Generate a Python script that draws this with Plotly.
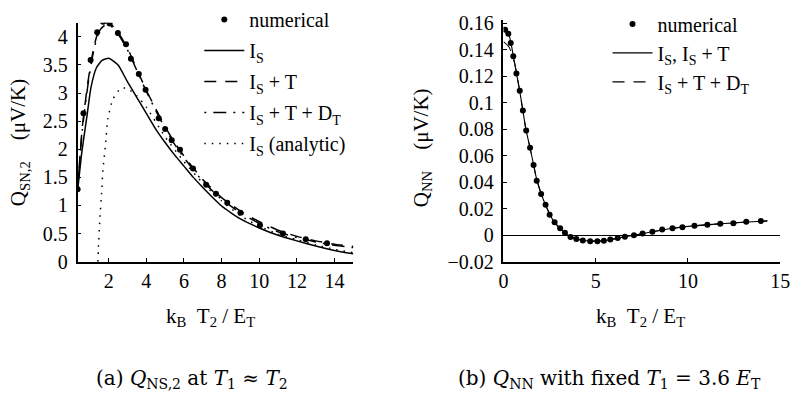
import plotly.graph_objects as go

# ---------------- data: panel (a) ----------------
num_a_x = [0.35, 0.66, 1.04, 1.39, 1.70, 2.05, 2.49, 2.92, 3.18, 3.6, 3.96, 4.66, 5.0, 5.35,
           5.79, 6.48, 7.18, 7.7, 8.3, 9.0, 10.04, 11.26, 12.47, 13.6]
num_a_y = [1.29, 2.64, 3.59, 4.08, 4.27, 4.24, 4.07, 3.87, 3.61, 3.34, 3.06, 2.55, 2.36, 2.16,
           1.99, 1.66, 1.37, 1.21, 1.05, 0.87, 0.65, 0.50, 0.40, 0.33]

is_x = [0.35, 0.57, 0.85, 1.06, 1.35, 1.65, 2.0, 2.5, 3.0, 3.5, 4.0, 4.5, 5.0, 5.5, 6.0, 6.5,
        7.0, 7.5, 8.0, 8.5, 9.0, 10.0, 11.0, 12.0, 13.0, 14.0, 15.0]
is_y = [1.26, 1.94, 2.6, 3.1, 3.45, 3.58, 3.62, 3.5, 3.2, 2.92, 2.64, 2.36, 2.12, 1.9, 1.7, 1.5,
        1.32, 1.15, 0.99, 0.87, 0.76, 0.6, 0.47, 0.37, 0.28, 0.2, 0.14]

ist_x = [0.35, 0.6, 0.9, 1.2, 1.5, 1.8, 2.1, 2.5, 3.0, 3.5, 4.0, 4.5, 5.0, 5.5, 6.0, 7.0, 8.0,
         9.0, 10.0, 11.0, 12.0, 13.0, 14.0, 15.0]
ist_y = [1.3, 2.4, 3.2, 3.8, 4.15, 4.25, 4.23, 4.08, 3.8, 3.42, 3.05, 2.72, 2.40, 2.12, 1.88,
         1.46, 1.14, 0.9, 0.71, 0.56, 0.45, 0.37, 0.31, 0.27]
istd_y = [1.3, 2.35, 3.15, 3.75, 4.1, 4.21, 4.2, 4.05, 3.77, 3.4, 3.03, 2.69, 2.37, 2.09, 1.85,
          1.43, 1.11, 0.87, 0.68, 0.53, 0.43, 0.35, 0.29, 0.25]

an_x = [1.43, 1.45, 1.53, 1.62, 1.70, 1.83, 1.96, 2.22, 2.66, 3.0, 3.5, 4.0, 5.0, 6.0, 7.0,
        8.0, 9.0, 10.0, 11.0, 12.0, 13.0, 14.0, 15.0]
an_y = [0.0, 0.2, 0.76, 1.2, 1.65, 2.08, 2.55, 2.89, 3.09, 3.08, 2.95, 2.75, 2.22, 1.78, 1.40,
        1.08, 0.82, 0.63, 0.49, 0.39, 0.3, 0.22, 0.16]

a_ytick_vals = [0, 0.5, 1, 1.5, 2, 2.5, 3, 3.5, 4]
a_ytick_text = ["0", "0.5", "1", "1.5", "2", "2.5", "3", "3.5", "4"]
a_xtick_vals = [2, 4, 6, 8, 10, 12, 14]

# ---------------- data: panel (b) ----------------
num_b_x = [0.09, 0.26, 0.39, 0.53, 0.70, 0.88, 1.05, 1.23, 1.44, 1.63, 1.80, 2.04, 2.28, 2.50,
           2.77, 3.07, 3.33, 3.63, 3.95, 4.30, 4.70, 5.09, 5.44, 5.79, 6.19, 6.58, 7.07, 7.54,
           8.07, 8.60, 9.16, 9.70, 10.35, 11.05, 11.75, 12.46, 13.16, 13.95]
num_b_y = [0.155, 0.152, 0.145, 0.135, 0.122, 0.109, 0.094, 0.079, 0.066, 0.053, 0.041, 0.031,
           0.023, 0.0155, 0.0098, 0.0052, 0.0019, -0.0014, -0.0029, -0.0040, -0.0045, -0.0045,
           -0.0043, -0.0033, -0.0021, -0.0012, 0.0, 0.0012, 0.0026, 0.0043, 0.0052, 0.0060,
           0.0071, 0.0079, 0.0086, 0.0090, 0.0102, 0.0107]

lin_b_x = [0.0, 0.3, 0.6, 0.9, 1.2, 1.5, 1.8, 2.1, 2.4, 2.7, 3.0, 3.3, 3.6, 4.0, 4.5, 5.0, 5.5,
           6.0, 6.5, 7.0, 8.0, 9.0, 10.0, 11.0, 12.0, 13.0, 14.0, 14.3]
is_b_y = [0.157, 0.151, 0.130, 0.107, 0.081, 0.062, 0.042, 0.029, 0.019, 0.011, 0.006, 0.002,
          -0.001, -0.003, -0.0042, -0.0045, -0.0042, -0.0028, -0.0014, -0.0002, 0.0024, 0.0049,
          0.0066, 0.0078, 0.0088, 0.0098, 0.0105, 0.0108]
istd_b_y = [0.146, 0.142, 0.130, 0.107, 0.081, 0.062, 0.042, 0.029, 0.019, 0.011, 0.006, 0.002,
            -0.001, -0.003, -0.0042, -0.0045, -0.0042, -0.0028, -0.0014, -0.0002, 0.0024, 0.0049,
            0.0066, 0.0078, 0.0088, 0.0098, 0.0105, 0.0108]

b_ytick_vals = [-0.02, 0, 0.02, 0.04, 0.06, 0.08, 0.1, 0.12, 0.14, 0.16]
b_ytick_text = ["\u22120.02", "0", "0.02", "0.04", "0.06", "0.08", "0.1", "0.12", "0.14", "0.16"]
b_xtick_vals = [0, 5, 10, 15]

# ---------------- figure ----------------
FONT = "Liberation Serif"
CAPFONT = "DejaVu Serif"
TS = 20
fig = go.Figure()

def line(x, y, name, dash, xa, ya, leg, rank, w=1.5):
    fig.add_trace(go.Scatter(x=x, y=y, mode="lines", name=name, xaxis=xa, yaxis=ya,
                             line=dict(color="black", width=w, dash=dash, shape="spline", smoothing=0.5),
                             legend=leg, legendrank=rank, legendgroup=leg + str(rank)))

def dots(x, y, name, xa, ya, leg, rank):
    fig.add_trace(go.Scatter(x=x, y=y, mode="markers", name=name, xaxis=xa, yaxis=ya,
                             marker=dict(color="black", size=6), legend=leg, legendrank=rank,
                             legendgroup=leg + str(rank)))

# panel a
line(is_x, is_y, "I<sub>S</sub>", "solid", "x", "y", "legend", 2)
line(ist_x, ist_y, "I<sub>S</sub> + T", "12px,9px", "x", "y", "legend", 3)
line(ist_x, istd_y, "I<sub>S</sub> + T + D<sub>T</sub>", "2px,7px,13px,7px", "x", "y", "legend", 4)
line(an_x, an_y, "I<sub>S</sub> (analytic)", "1.5px,6px", "x", "y", "legend", 5)
dots(num_a_x, num_a_y, "numerical", "x", "y", "legend", 1)

# panel b
line(lin_b_x, is_b_y, "I<sub>S</sub>, I<sub>S</sub> + T", "solid", "x2", "y2", "legend2", 2, w=1.1)
line(lin_b_x, istd_b_y, "I<sub>S</sub> + T + D<sub>T</sub>", "12px,9px", "x2", "y2", "legend2", 3, w=1.1)
dots(num_b_x, num_b_y, "numerical", "x2", "y2", "legend2", 1)

W, H = 802, 407
def px(x): return x / W
def py(y): return 1 - y / H

axis_common = dict(showline=True, linecolor="black", linewidth=1.5, ticks="inside", ticklen=4,
                   tickcolor="black", showgrid=False, mirror=False,
                   tickfont=dict(family=FONT, size=TS, color="black"))

fig.update_layout(
    width=W, height=H, margin=dict(l=0, r=0, t=0, b=0),
    paper_bgcolor="white", plot_bgcolor="white", showlegend=True,
    font=dict(family=FONT, size=TS, color="black"),
    xaxis=dict(domain=[px(74), px(355)], range=[0.35, 15.0], tickvals=a_xtick_vals,
               anchor="y", ticklabelstandoff=1, zeroline=False, **axis_common),
    yaxis=dict(domain=[py(265), py(12.5)], range=[0, 4.25], tickvals=a_ytick_vals,
               ticktext=a_ytick_text, anchor="x", ticklabelstandoff=4, zeroline=False, **axis_common),
    xaxis2=dict(domain=[px(508), px(790)], range=[0, 15], tickvals=b_xtick_vals,
                anchor="y2", ticklabelstandoff=1, zeroline=False, **axis_common),
    yaxis2=dict(domain=[py(265), py(10)], range=[-0.02, 0.162], tickvals=b_ytick_vals,
                ticktext=b_ytick_text, anchor="x2", ticklabelstandoff=4,
                zeroline=True, zerolinecolor="black", zerolinewidth=1, **axis_common),
    legend=dict(x=px(198), y=py(-12), xanchor="left", yanchor="top", bgcolor="rgba(0,0,0,0)",
                font=dict(family=FONT, size=TS), tracegroupgap=2, itemwidth=40),
    legend2=dict(x=px(614), y=py(-7), xanchor="left", yanchor="top", bgcolor="rgba(0,0,0,0)",
                 font=dict(family=FONT, size=TS), tracegroupgap=0, itemwidth=40),
)

ann = [
    dict(text="Q<sub>SN,2</sub>\u00a0\u00a0\u00a0\u00a0(\u03bcV/K)", x=px(15), y=py(139), textangle=-90),
    dict(text="Q<sub>NN</sub>\u00a0\u00a0\u00a0\u00a0(\u03bcV/K)", x=px(425), y=py(145), textangle=-90),
    dict(text="k<sub>B</sub>\u00a0\u00a0T<sub>2</sub>\u00a0/\u00a0E<sub>T</sub>", x=px(209), y=py(323)),
    dict(text="k<sub>B</sub>\u00a0\u00a0T<sub>2</sub>\u00a0/\u00a0E<sub>T</sub>", x=px(648), y=py(323)),
]
for a in ann:
    fig.add_annotation(xref="paper", yref="paper", showarrow=False, xanchor="center",
                       yanchor="middle", font=dict(family=FONT, size=21, color="black"), **a)

cap = [
    dict(text="(a) <i>Q</i><sub>NS,2</sub> at <i>T</i><sub>1</sub> \u2248 <i>T</i><sub>2</sub>", x=px(191)),
    dict(text="(b) <i>Q</i><sub>NN</sub> with fixed <i>T</i><sub>1</sub> = 3.6 <i>E</i><sub>T</sub>", x=px(616)),
]
for c in cap:
    fig.add_annotation(xref="paper", yref="paper", showarrow=False, xanchor="center",
                       yanchor="middle", y=py(389), font=dict(family=CAPFONT, size=20, color="black"), **c)

fig.write_html("out.html")
